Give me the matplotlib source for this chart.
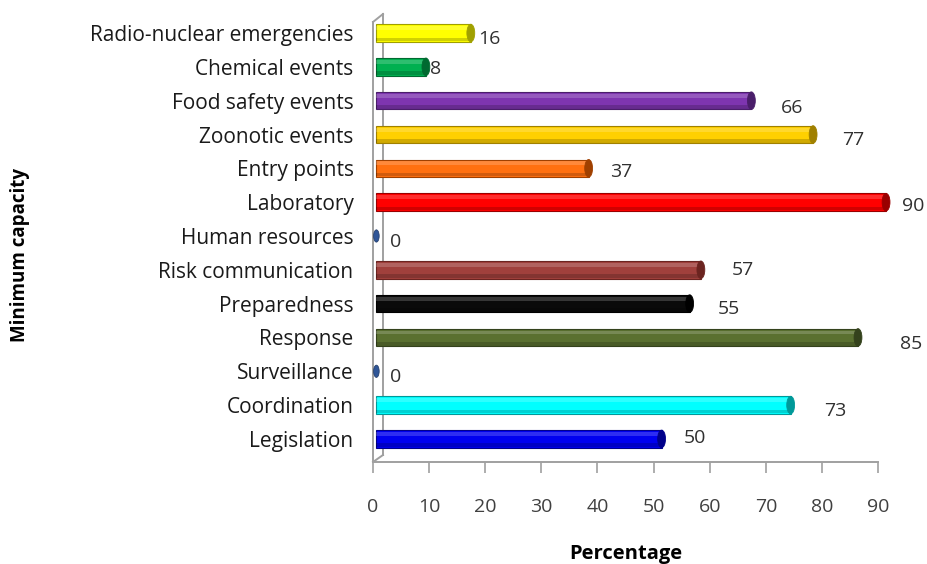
"""
Minimum capacity scores shown as horizontal cylinder-style bars.
"""

import matplotlib
matplotlib.use('Agg')
import matplotlib.pyplot as plt
import matplotlib.transforms as mtransforms
from matplotlib.patches import Ellipse
from matplotlib.lines import Line2D

plt.rcParams['font.family'] = ['Open Sans', 'DejaVu Sans']

# data (bottom to top)
capacities = ['Legislation', 'Coordination', 'Surveillance', 'Response',
              'Preparedness', 'Risk communication', 'Human resources',
              'Laboratory', 'Entry points', 'Zoonotic events',
              'Food safety events', 'Chemical events',
              'Radio-nuclear emergencies']
percent = [50, 73, 0, 85, 55, 57, 0, 90, 37, 77, 66, 8, 16]
colors = ['#0000F0', '#00FFFF', '#2F5597', '#5A7030', '#0A0A0A', '#A0403C',
          '#2F5597', '#FF0000', '#FF7010', '#FFD000', '#7E35B0', '#00B050',
          '#FFFF00']
edges = ['#00008A', '#009999', '#1F3864', '#34421C', '#000000', '#6B2420',
         '#1F3864', '#990000', '#A04000', '#A08000', '#4A1E6A', '#006A30',
         '#A0A000']
xticks = [0, 10, 20, 30, 40, 50, 60, 70, 80, 90]

# small nudges for the value labels (points), like the original layout
label_dx = [22, 30, 12, 36, 26, 28, 12, 17, 21, 27, 27, 9, 11]
label_dy = [0.5, -4.5, -4, -4.5, -4, -0.3, -4, -2.5, -2.5, -4, -5.3, -1.7, -4.5]

fig = plt.figure(figsize=(9.27, 5.64), dpi=100)
ax = fig.add_axes([0.4024, 0.181, 0.5448, 0.794])
ax.patch.set_visible(False)

# bars sit on the back wall of the 3D frame, 8 px behind the front axis line
depth = mtransforms.ScaledTranslation(8 / 100, 0, fig.dpi_scale_trans)
btrans = ax.transData + depth

ypos = list(range(len(capacities)))
h = 0.52

for y, v, c, e in zip(ypos, percent, colors, edges):
    if v > 0:
        ax.barh(y, v + 0.9, height=h, left=-0.9, color=c, edgecolor=e,
                linewidth=0.8, zorder=2, clip_on=False, transform=btrans)
        # light top stripe and dark bottom stripe for the cylinder look
        ax.barh(y + h * 0.28, v + 0.9, height=h * 0.22, left=-0.9, color='white',
                alpha=0.18, linewidth=0, zorder=3, clip_on=False, transform=btrans)
        ax.barh(y - h * 0.36, v + 0.9, height=h * 0.2, left=-0.9, color='black',
                alpha=0.18, linewidth=0, zorder=3, clip_on=False, transform=btrans)
        ax.add_patch(Ellipse((v, y), 1.4, h, facecolor=e, edgecolor=e,
                             linewidth=0.6, zorder=4, clip_on=False,
                             transform=btrans))
    else:
        ax.add_patch(Ellipse((0.6, y), 1.0, h * 0.7, facecolor=c,
                             edgecolor='#1F3864', linewidth=0.5, zorder=4))

for y, v, dx, dy in zip(ypos, percent, label_dx, label_dy):
    ax.annotate(str(v), (v, y), xytext=(dx, dy), textcoords='offset points',
                ha='left', va='center', fontsize=14, color='#303030',
                annotation_clip=False)

ax.set_xlim(0, 90)
ax.set_ylim(-0.68, 12.56)
ax.set_yticks(ypos)
ax.set_yticklabels(capacities, fontsize=15, color='#1a1a1a')
ax.set_xticks(xticks)
ax.tick_params(axis='y', length=0, pad=14)
ax.tick_params(axis='x', length=8, width=1.2, color='#a0a0a0', pad=18,
               labelsize=14, labelcolor='#404040')
for s in ['top', 'right', 'left']:
    ax.spines[s].set_visible(False)
ax.spines['bottom'].set_color('#a0a0a0')
ax.spines['bottom'].set_linewidth(1.4)

# 3D side wall lines
W, H = 927.0, 564.0
def fx(px):
    return px / W
def fy(py):
    return 1 - py / H
wall = [((373, 373), (22, 462)), ((383, 383), (14, 455)),
        ((373, 383), (22, 14)), ((373, 383), (462, 455))]
for xs, ys in wall:
    fig.add_artist(Line2D([fx(xs[0]), fx(xs[1])], [fy(ys[0]), fy(ys[1])],
                          color='#a0a0a0', linewidth=1.4, zorder=-1))

ax.set_xlabel('Percentage', fontsize=14.5, fontweight='bold', labelpad=20)
fig.text(0.022, 0.548, 'Minimum capacity', rotation=90, ha='center', va='center',
         fontsize=13.5, fontweight='bold')

fig.savefig('out.png', dpi=100)
